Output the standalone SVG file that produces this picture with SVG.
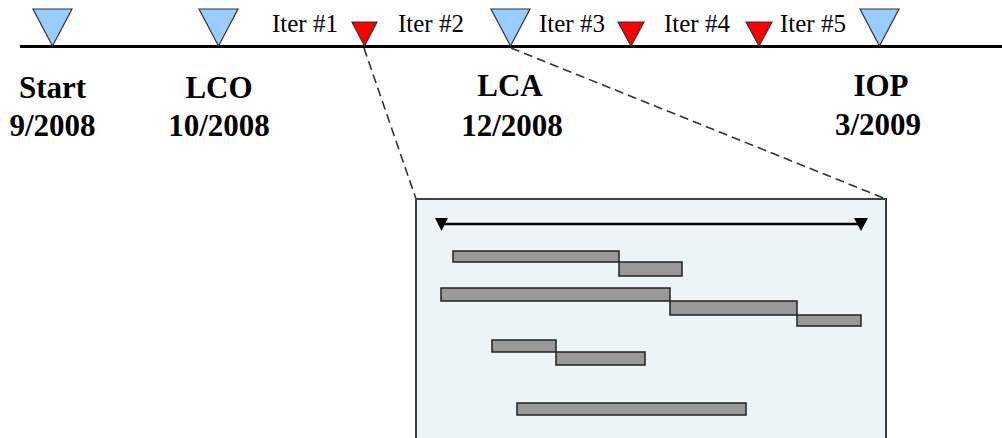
<svg xmlns="http://www.w3.org/2000/svg" width="1002" height="438" viewBox="0 0 1002 438">
<style>
.ms{fill:#99CCFF;stroke:#333;stroke-width:1.2;stroke-linejoin:miter}
.it{fill:#FF0000;stroke:#333;stroke-width:1.2}
.lbl{font-family:"Liberation Serif","Times New Roman",serif;font-weight:bold;font-size:31px;fill:#000;text-anchor:middle}
.itl{font-family:"Liberation Serif","Times New Roman",serif;font-size:25px;fill:#000}
.bar{fill:#999999;stroke:#222;stroke-width:1.5}
.dash{stroke:#333;stroke-width:1.6;stroke-dasharray:9 5;fill:none}
</style>
<rect width="1002" height="438" fill="#fff"/>
<g id="timeline">
<line x1="20" y1="46.5" x2="1002" y2="46.5" stroke="#000" stroke-width="3"/>
</g>
<g id="connectors">
<line class="dash" x1="364" y1="48" x2="416" y2="199"/>
<line class="dash" x1="511" y1="48" x2="886" y2="199"/>
</g>
<g id="start">
<polygon class="ms" points="33,9 72,9 52.5,46"/>
<text class="lbl" x="52.5" y="98">Start</text>
<text class="lbl" x="52.5" y="136">9/2008</text>
</g>
<g id="lco">
<polygon class="ms" points="199,9 238,9 218.5,46"/>
<text class="lbl" x="219" y="98">LCO</text>
<text class="lbl" x="219" y="136">10/2008</text>
</g>
<g id="lca">
<polygon class="ms" points="491,9 530,9 510.5,46"/>
<text class="lbl" x="510" y="96">LCA</text>
<text class="lbl" x="512" y="136">12/2008</text>
</g>
<g id="iop">
<polygon class="ms" points="860,9 899,9 879.5,46"/>
<text class="lbl" x="881" y="96">IOP</text>
<text class="lbl" x="878" y="135">3/2009</text>
</g>
<g id="iter-marks">
<polygon class="it" points="352,22 377,22 364.5,46"/>
<polygon class="it" points="618,22 644,22 631,46"/>
<polygon class="it" points="746,22 772,22 759,46"/>
</g>
<g id="iter-labels">
<text class="itl" x="272" y="32">Iter #1</text>
<text class="itl" x="398" y="32">Iter #2</text>
<text class="itl" x="539" y="32">Iter #3</text>
<text class="itl" x="664" y="32">Iter #4</text>
<text class="itl" x="780" y="32">Iter #5</text>
</g>
<g id="detail">
<rect x="416" y="199" width="470" height="260" fill="#EBF5F7" stroke="#404040" stroke-width="2"/>
<line x1="441" y1="224" x2="861" y2="224" stroke="#000" stroke-width="2.5"/>
<polygon points="435,218 448,218 441.5,231" fill="#000"/>
<polygon points="854,218 868,218 861,231" fill="#000"/>
<rect class="bar" x="453" y="251" width="166" height="11"/>
<rect class="bar" x="619" y="262" width="63" height="14"/>
<rect class="bar" x="441" y="288" width="229" height="13"/>
<rect class="bar" x="670" y="301" width="127" height="14"/>
<rect class="bar" x="797" y="315" width="64" height="11"/>
<rect class="bar" x="492" y="340" width="64" height="12"/>
<rect class="bar" x="556" y="352" width="89" height="13"/>
<rect class="bar" x="517" y="403" width="229" height="12"/>
</g>
</svg>
